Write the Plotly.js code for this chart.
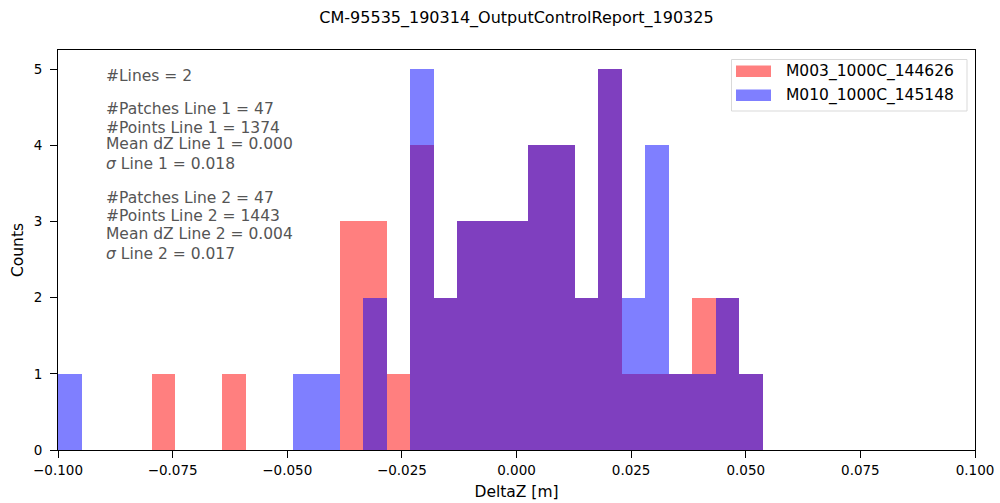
<!DOCTYPE html>
<html>
<head>
<meta charset="utf-8">
<script src="https://cdn.plot.ly/plotly-3.0.1.min.js"></script>
<style>
  html, body { margin: 0; padding: 0; background: #fff; }
  #chart { width: 1000px; height: 503px; }
</style>
</head>
<body>
<div id="chart"></div>
<script>
// ---- data (histogram counts per bin) ----
const binStart = -0.1;
const binWidth = 0.005125;
const seriesNames = ["M003_1000C_144626", "M010_1000C_145148"];
const countsM003 = [0,0,0,0,1,0,0,1,0,0,0,0,3,3,1,4,2,3,3,3,4,4,2,5,1,1,1,2,2,1];
const countsM010 = [1,0,0,0,0,0,0,0,0,0,1,1,0,2,0,5,2,3,3,3,4,4,2,5,2,4,1,1,2,1];
const xTickVals = [-0.1, -0.075, -0.05, -0.025, 0, 0.025, 0.05, 0.075, 0.1];
const yTickVals = [0, 1, 2, 3, 4, 5];
const titleText = "CM-95535_190314_OutputControlReport_190325";
const infoLines = [
  "#Lines = 2",
  "#Patches Line 1 = 47",
  "#Points Line 1 = 1374",
  "Mean dZ Line 1 = 0.000",
  "<i>σ</i> Line 1 = 0.018",
  "#Patches Line 2 = 47",
  "#Points Line 2 = 1443",
  "Mean dZ Line 2 = 0.004",
  "<i>σ</i> Line 2 = 0.017"
];

// ---- layout helpers ----
const FONT = "DejaVu Sans, Verdana, sans-serif";
const L = 58, R = 25, T = 50, B = 53, W = 1000, H = 503;
const pw = W - L - R, ph = H - T - B;
const px = x => (x - L) / pw;          // pixel x -> paper
const py = y => (H - B - y) / ph;      // pixel y -> paper

const centers = countsM003.map((_, k) => binStart + (k + 0.5) * binWidth);

const colors = ["rgb(255,0,0)", "rgb(0,0,255)"];
const traces = [countsM003, countsM010].map((c, i) => ({
  type: "bar",
  x: centers,
  y: c,
  width: binWidth,
  name: seriesNames[i],
  marker: { color: colors[i], opacity: 0.5, line: { width: 0 } },
  showlegend: false,
  hoverinfo: "x+y+name"
}));

const infoY = [75.7, 109.3, 127.7, 143.5, 164.3, 198, 216, 233.7, 254];
const annotations = infoLines.map((t, i) => ({
  xref: "paper", yref: "paper",
  x: px(104), y: py(infoY[i]),
  xanchor: "left", yanchor: "middle",
  text: t, showarrow: false,
  font: { family: FONT, size: 15.5, color: "#555555" }
}));

// manual legend (matplotlib style)
const legTextY = [71.7, 95.7];
const legPatch = [[65.5, 77], [89.5, 101]];
const shapes = [{
  type: "rect", xref: "paper", yref: "paper",
  x0: px(731.5), x1: px(967), y0: py(59.5), y1: py(111),
  line: { color: "#d9d9d9", width: 1 }, fillcolor: "rgba(255,255,255,0.8)", layer: "above"
}];
seriesNames.forEach((n, i) => {
  shapes.push({
    type: "rect", xref: "paper", yref: "paper",
    x0: px(736), x1: px(771), y0: py(legPatch[i][0]), y1: py(legPatch[i][1]),
    line: { width: 0 }, fillcolor: colors[i], opacity: 0.5, layer: "above"
  });
  annotations.push({
    xref: "paper", yref: "paper",
    x: px(784), y: py(legTextY[i]),
    xanchor: "left", yanchor: "middle",
    text: n, showarrow: false,
    font: { family: FONT, size: 15.5, color: "#000000" }
  });
});

const axisCommon = {
  showline: true, linecolor: "#000", linewidth: 1, mirror: true,
  ticks: "outside", ticklen: 7, tickwidth: 1, tickcolor: "#000",
  showgrid: false, zeroline: false,
  tickfont: { family: FONT, size: 13.5, color: "#000" }
};

const layout = {
  width: W, height: H,
  margin: { l: L, r: R, t: T, b: B, pad: 0 },
  paper_bgcolor: "#fff", plot_bgcolor: "#fff",
  barmode: "overlay",
  bargap: 0,
  title: {
    text: titleText,
    font: { family: FONT, size: 16, color: "#000" },
    x: 0.5, xref: "paper", xanchor: "center",
    y: 1 - 17 / H, yref: "container", yanchor: "middle"
  },
  xaxis: Object.assign({}, axisCommon, {
    range: [-0.1, 0.1],
    tickvals: xTickVals,
    tickformat: ".3f",
    ticklabelstandoff: 1,
    title: { text: "DeltaZ [m]", font: { family: FONT, size: 15.5, color: "#000" }, standoff: 8 }
  }),
  yaxis: Object.assign({}, axisCommon, {
    range: [0, 5.25],
    tickvals: yTickVals,
    ticklabelstandoff: 5,
    title: { text: "Counts", font: { family: FONT, size: 15.5, color: "#000" }, standoff: 6 }
  }),
  annotations: annotations,
  shapes: shapes
};

Plotly.newPlot("chart", traces, layout, { displayModeBar: false, staticPlot: true });
</script>
</body>
</html>
